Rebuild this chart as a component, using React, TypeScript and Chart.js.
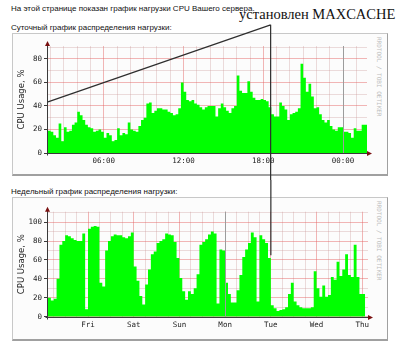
import React, { useEffect, useRef } from 'react';
import { Chart, registerables } from 'chart.js';

Chart.register(...registerables);

// ---------- data ----------
// Daily chart: CPU usage %, one sample every 0.2 h starting at 01:48
const dailyStartHour = 1.8;
const dailyEndHour = 25.8;
const dailyStepHours = 0.2;
const dailyLoad = [
  20, 19, 18, 15, 13, 25, 10, 22, 18, 19,
  24, 26, 35, 32, 28, 24, 22, 21, 18, 19,
  20, 18, 13, 17, 15, 10, 11, 21, 15, 17,
  16, 26, 20, 19, 18, 23, 28, 30, 42, 43,
  34, 36, 38, 38, 37, 37, 35, 34, 32, 33,
  38, 60, 52, 45, 44, 45, 42, 41, 39, 37,
  39, 40, 40, 40, 31, 38, 42, 39, 36, 34,
  38, 40, 66, 53, 51, 51, 61, 52, 47, 45,
  45, 46, 45, 44, 39, 33, 31, 31, 43, 40,
  37, 28, 33, 34, 35, 38, 76, 64, 52, 59,
  48, 38, 39, 33, 28, 26, 28, 23, 20, 19,
  22, 22, 18, 18, 17, 13, 21, 19, 19, 24,
];
const dailyLabelHours = [6, 12, 18, 24];
const dailyLabels = ['06:00', '12:00', '18:00', '00:00'];
const dailyYMax = 91;
const dailyYLabels = [0, 20, 40, 60, 80];
const dailyMidnight = [24];

// Weekly chart: hours relative to Friday 00:00, one sample every 1.5 h
const weeklyStartHour = -21;
const weeklyEndHour = 147;
const weeklyStepHours = 1.5;
const weeklyLoad = [
  30, 20, 17, 19, 40, 76, 80, 86, 85, 83,
  81, 80, 80, 88, 8, 93, 95, 96, 95, 36,
  32, 70, 80, 85, 87, 86, 86, 84, 83, 85,
  89, 53, 38, 22, 13, 34, 50, 66, 69, 78,
  80, 82, 88, 87, 86, 79, 62, 41, 27, 18,
  27, 24, 30, 45, 76, 79, 82, 87, 90, 88,
  14, 71, 70, 36, 24, 15, 15, 28, 44, 63,
  71, 78, 89, 84, 16, 86, 82, 78, 62, 12,
  9, 6, 7, 8, 10, 24, 36, 16, 12, 10,
  9, 9, 9, 10, 48, 30, 21, 33, 21, 23,
  42, 39, 58, 43, 50, 66, 44, 42, 76, 42, 24,
];
const weekDayHours = [0, 24, 48, 72, 96, 120, 144];
const weekDayLabels = ['Fri', 'Sat', 'Sun', 'Mon', 'Tue', 'Wed', 'Thu'];
const weeklyYMax = 111;
const weeklyYLabels = [0, 20, 40, 60, 80, 100];
const weeklyMidnight = [72];

// hand-drawn "установлен MAXCACHE" marker
const markDailyHour = 18.55;
const markDailyStartValue = 43.5;
const markDailyTopValue = 109;
const markWeeklyHour = 96;
const markWeeklyEndValue = 65;

// ---------- styles ----------
const green = '#00ff00';
const gridMinor = 'rgba(200,150,150,0.33)';
const gridMajor = 'rgba(228,96,96,0.45)';
const axisColor = '#3a3a3a';
const arrowColor = '#7a1010';
const vruleColor = '#9c9c9c';
const markColor = '#2e2e2e';
const tickFont = { family: '"DejaVu Sans Mono", monospace', size: 7.5 };

type Mark =
  | { kind: 'daily'; hour: number; from: number; top: number }
  | { kind: 'weekly'; hour: number; end: number };

function decorPlugin(vrules: number[], mark: Mark) {
  return {
    id: 'rrdDecor',
    afterDatasetsDraw(chart: any) {
      const { ctx, chartArea: a, scales } = chart;
      const x = scales.x;
      ctx.save();
      ctx.strokeStyle = vruleColor;
      ctx.lineWidth = 1;
      for (const h of vrules) {
        const px = Math.round(x.getPixelForValue(h)) + 0.5;
        ctx.beginPath();
        ctx.moveTo(px, a.top);
        ctx.lineTo(px, a.bottom);
        ctx.stroke();
      }
      const yb = Math.round(a.bottom) + 0.5;
      const xl = Math.round(a.left) - 0.5;
      ctx.strokeStyle = axisColor;
      ctx.beginPath();
      ctx.moveTo(xl - 2, yb);
      ctx.lineTo(a.right + 2, yb);
      ctx.moveTo(xl, yb + 2);
      ctx.lineTo(xl, a.top - 1);
      ctx.stroke();
      ctx.fillStyle = arrowColor;
      ctx.beginPath();
      ctx.moveTo(a.right + 5, yb);
      ctx.lineTo(a.right, yb - 2.5);
      ctx.lineTo(a.right, yb + 2.5);
      ctx.closePath();
      ctx.fill();
      ctx.beginPath();
      ctx.moveTo(xl, a.top - 5);
      ctx.lineTo(xl - 2.5, a.top);
      ctx.lineTo(xl + 2.5, a.top);
      ctx.closePath();
      ctx.fill();
      ctx.restore();
    },
    afterDraw(chart: any) {
      const { ctx, scales, height } = chart;
      const x = scales.x;
      const y = scales.y;
      ctx.save();
      ctx.strokeStyle = markColor;
      ctx.lineWidth = 1.2;
      ctx.beginPath();
      if (mark.kind === 'daily') {
        const px = x.getPixelForValue(mark.hour);
        const topY = y.getPixelForValue(mark.top);
        ctx.moveTo(x.getPixelForValue(dailyStartHour), y.getPixelForValue(mark.from));
        ctx.lineTo(px, topY);
        ctx.moveTo(px, topY);
        ctx.lineTo(px, height);
      } else {
        const px = x.getPixelForValue(mark.hour);
        ctx.moveTo(px, 0);
        ctx.lineTo(px, y.getPixelForValue(mark.end));
      }
      ctx.stroke();
      ctx.restore();
    },
  };
}

interface Cfg {
  values: number[];
  start: number;
  step: number;
  xmin: number;
  xmax: number;
  xGridStep: number;
  xMajor: (v: number) => boolean;
  xLabel: (v: number) => string;
  ymax: number;
  yLabels: number[];
  padTop: number;
  padRight: number;
  xAxisHeight: number;
  vrules: number[];
  mark: Mark;
}

function buildConfig(c: Cfg): any {
  const pts = c.values.map((v, i) => ({ x: c.start + i * c.step, y: v }));
  pts.push({ x: c.start + c.values.length * c.step, y: c.values[c.values.length - 1] });
  const xTicks: number[] = [];
  for (let v = Math.ceil(c.xmin / c.xGridStep) * c.xGridStep; v < c.xmax; v += c.xGridStep) xTicks.push(v);
  const yTicks: number[] = [];
  for (let v = 0; v < c.ymax; v += 10) yTicks.push(v);
  const isYLabel = (v: number) => c.yLabels.includes(v);
  return {
    type: 'line',
    data: {
      datasets: [
        {
          data: pts,
          stepped: 'after',
          fill: 'origin',
          backgroundColor: green,
          borderColor: 'rgba(0,0,0,0)',
          borderWidth: 0,
          pointRadius: 0,
          tension: 0,
        },
      ],
    },
    options: {
      responsive: false,
      animation: false,
      events: [],
      layout: { padding: { left: 0, right: c.padRight, top: c.padTop, bottom: 0 } },
      plugins: { legend: { display: false }, tooltip: { enabled: false } },
      scales: {
        x: {
          type: 'linear',
          min: c.xmin,
          max: c.xmax,
          bounds: 'data',
          afterBuildTicks: (s: any) => {
            s.ticks = xTicks.map((v) => ({ value: v }));
          },
          afterFit: (s: any) => {
            s.height = c.xAxisHeight;
          },
          ticks: {
            autoSkip: false,
            maxRotation: 0,
            minRotation: 0,
            padding: 4,
            font: tickFont,
            color: '#222',
            callback: (v: number) => c.xLabel(v),
          },
          grid: {
            drawTicks: false,
            color: (ctx: any) => (ctx.tick && c.xMajor(ctx.tick.value) ? gridMajor : gridMinor),
          },
          border: { display: false },
        },
        y: {
          min: 0,
          max: c.ymax,
          bounds: 'data',
          afterBuildTicks: (s: any) => {
            s.ticks = yTicks.map((v) => ({ value: v }));
          },
          afterFit: (s: any) => {
            s.width = 48;
          },
          ticks: {
            autoSkip: false,
            padding: 2,
            font: tickFont,
            color: '#222',
            callback: (v: number) => (isYLabel(v) ? String(v) : ''),
          },
          grid: {
            tickLength: 4,
            color: (ctx: any) => (ctx.tick && ctx.tick.value % 20 === 0 ? gridMajor : gridMinor),
            tickColor: (ctx: any) => (ctx.tick && isYLabel(ctx.tick.value) ? axisColor : 'rgba(0,0,0,0)'),
          },
          border: { display: false },
          title: {
            display: true,
            text: 'CPU Usage, %',
            color: '#222',
            font: { family: '"DejaVu Sans", sans-serif', size: 8.5 },
            padding: { top: 17, bottom: 0 },
          },
        },
      },
    },
    plugins: [decorPlugin(c.vrules, c.mark)],
  };
}

function ChartCanvas({ cfg, top, height }: { cfg: Cfg; top: number; height: number }) {
  const ref = useRef<HTMLCanvasElement | null>(null);
  useEffect(() => {
    if (!ref.current) return;
    const chart = new Chart(ref.current, buildConfig(cfg));
    return () => chart.destroy();
  }, []);
  return (
    <canvas
      ref={ref}
      width={400}
      height={height}
      style={{ position: 'absolute', left: 0, top, width: 400, height }}
    />
  );
}

const dailyCfg: Cfg = {
  values: dailyLoad,
  start: dailyStartHour,
  step: dailyStepHours,
  xmin: dailyStartHour,
  xmax: dailyEndHour,
  xGridStep: 1,
  xMajor: (v) => v % 6 === 0,
  xLabel: (v) => {
    const i = dailyLabelHours.indexOf(v);
    return i >= 0 ? dailyLabels[i] : '';
  },
  ymax: dailyYMax,
  yLabels: dailyYLabels,
  padTop: 46,
  padRight: 33,
  xAxisHeight: 27,
  vrules: dailyMidnight,
  mark: { kind: 'daily', hour: markDailyHour, from: markDailyStartValue, top: markDailyTopValue },
};

const weeklyCfg: Cfg = {
  values: weeklyLoad,
  start: weeklyStartHour,
  step: weeklyStepHours,
  xmin: weeklyStartHour,
  xmax: weeklyEndHour,
  xGridStep: 6,
  xMajor: (v) => v % 24 === 0,
  xLabel: (v) => {
    const i = weekDayHours.indexOf(v);
    return i >= 0 ? weekDayLabels[i] : '';
  },
  ymax: weeklyYMax,
  yLabels: weeklyYLabels,
  padTop: 31.7,
  padRight: 32,
  xAxisHeight: 35.3,
  vrules: weeklyMidnight,
  mark: { kind: 'weekly', hour: markWeeklyHour, end: markWeeklyEndValue },
};

const headFont = '8px "Liberation Sans", Arial, sans-serif';

const frameStyle = (top: number, height: number): React.CSSProperties => ({
  position: 'absolute',
  left: 12,
  top,
  width: 374,
  height,
  background: '#fcfcfc',
  borderLeft: '1px solid #c8c8c8',
  borderTop: '1px solid #c8c8c8',
  borderRight: '1px solid #a0a0a0',
  borderBottom: '2px solid #a0a0a0',
});

const textStyle = (top: number): React.CSSProperties => ({
  position: 'absolute',
  left: 11,
  top,
  font: headFont,
  lineHeight: '10px',
  color: '#111',
  whiteSpace: 'nowrap',
});

const watermark = (top: number): React.CSSProperties => ({
  position: 'absolute',
  left: 376,
  top,
  writingMode: 'vertical-rl',
  font: '6px "DejaVu Sans Mono", monospace',
  color: '#bdbdbd',
  whiteSpace: 'nowrap',
  lineHeight: '7px',
});

export default function App() {
  return (
    <div
      style={{
        position: 'absolute',
        left: 0,
        top: 0,
        width: 400,
        height: 352,
        background: '#ffffff',
        overflow: 'hidden',
      }}
    >
      <div style={frameStyle(33, 140)} />
      <div style={frameStyle(197, 141)} />
      <div style={watermark(37)}>RRDTOOL / TOBI OETIKER</div>
      <div style={watermark(201)}>RRDTOOL / TOBI OETIKER</div>
      <div style={textStyle(4)}>На этой странице показан график нагрузки CPU Вашего сервера.</div>
      <div style={textStyle(23)}>Суточный график распределения нагрузки:</div>
      <div style={textStyle(187)}>Недельный график распределения нагрузки:</div>
      <div
        style={{
          position: 'absolute',
          left: 239,
          top: 7,
          font: '14.5px "Liberation Serif", "Times New Roman", serif',
          lineHeight: '14px',
          color: '#111',
          whiteSpace: 'nowrap',
        }}
      >
        установлен MAXCACHE
      </div>
      <ChartCanvas cfg={dailyCfg} top={0} height={180} />
      <ChartCanvas cfg={weeklyCfg} top={180} height={172} />
    </div>
  );
}
